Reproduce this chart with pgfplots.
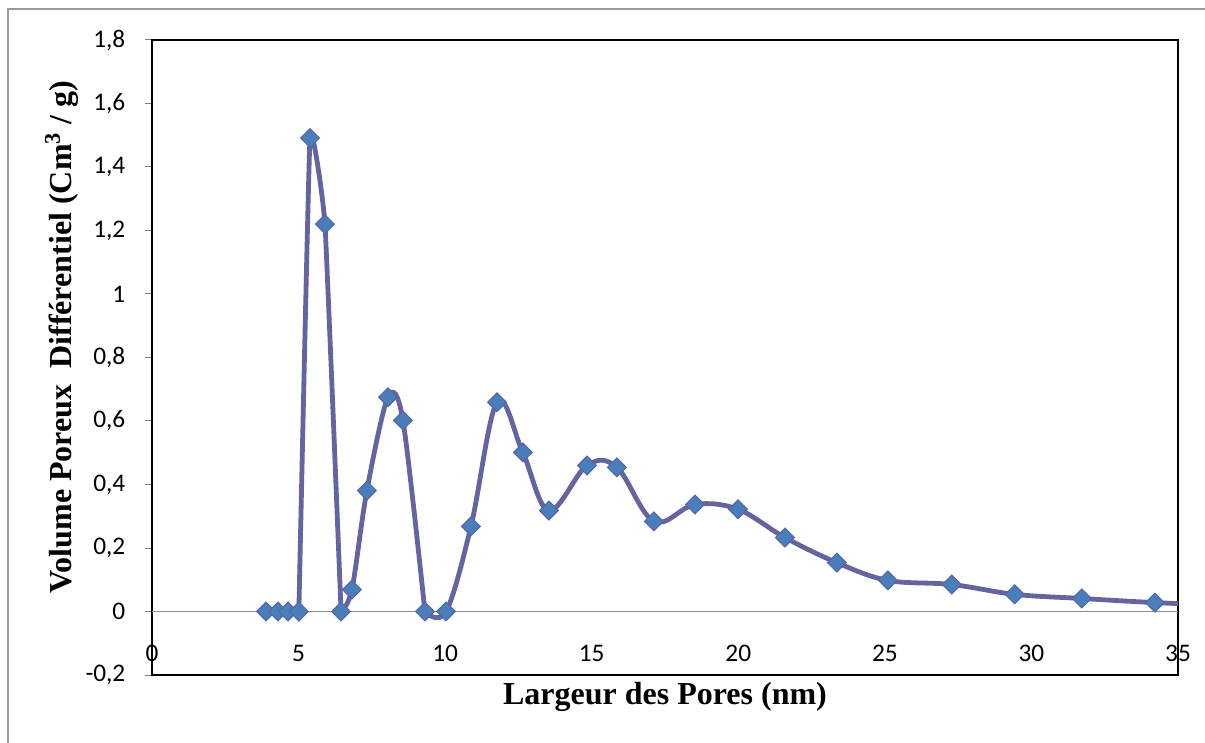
\documentclass[border=0pt]{standalone}
\usepackage{fontspec}
\setmainfont{Liberation Serif}
\newfontfamily\carlito{Carlito}
\usepackage{pgfplots}
\pgfplotsset{compat=1.18}
\definecolor{linec}{RGB}{100,100,160}
\definecolor{markf}{RGB}{74,126,187}
\definecolor{markd}{RGB}{85,100,165}
\begin{document}
\begin{tikzpicture}
\useasboundingbox (-114pt,-50.25pt) rectangle (789.75pt,506.25pt);
\draw[black!40, line width=1pt] (-108pt,-60pt) -- (-108pt,499.5pt) -- (800pt,499.5pt);
\begin{axis}[
  at={(0,0)}, anchor=south west,
  scale only axis, width=769.5pt, height=476.25pt,
  xmin=0, xmax=35, ymin=-0.2, ymax=1.8,
  xtick={0,5,10,15,20,25,30,35},
  xticklabels={0,5,10,15,20,25,30,35},
  ytick={-0.2,0,0.2,0.4,0.6,0.8,1,1.2,1.4,1.6,1.8},
  yticklabels={{-0,2},{0},{0,2},{0,4},{0,6},{0,8},{1},{1,2},{1,4},{1,6},{1,8}},
  axis line style={black, line width=2pt},
  ytick pos=left, tick align=outside, major tick length=5.5pt,
  ytick style={black!50, line width=0.75pt},
  xtick style={draw=none},
  tick label style={font=\carlito\fontsize{19}{22}\selectfont},
  xticklabel style={anchor=center, yshift=21.75pt},
  yticklabel style={xshift=-11pt},
  xlabel={Largeur des Pores (nm)},
  ylabel={Volume Poreux\ \ Différentiel (Cm\textsuperscript{3} / g)},
  label style={font=\bfseries\fontsize{24}{28}\selectfont},
  xlabel style={at={(axis description cs:0.5,-0.034)}, anchor=center},
  ylabel style={at={(axis description cs:-0.0877,0.532)}, anchor=center},
  clip marker paths=true,
]
\addplot[black!45, line width=1.1pt, forget plot] coordinates {(0,0) (35,0)};
% line pieces (same data, smoothed piecewise)
\addplot[linec, line width=3.6pt, line cap=round] coordinates {
  (3.89,0) (4.30,0) (4.64,0) (5.01,0)};
\addplot[linec, line width=3.6pt, smooth, tension=0.2, line cap=round] coordinates {
  (5.01,0) (5.39,1.491) (5.90,1.220) (6.45,0)};
\addplot[linec, line width=3.6pt, smooth, tension=0.5, line cap=round] coordinates {
  (6.45,0) (6.82,0.069) (7.33,0.381) (8.05,0.675) (8.56,0.602) (9.31,0)};
\addplot[linec, line width=3.6pt, smooth, tension=0.6, line cap=round] coordinates {
  (9.31,0) (10.03,0) (10.88,0.268) (11.77,0.659) (12.65,0.501)
  (13.54,0.318) (14.84,0.460) (15.86,0.454) (17.12,0.284)
  (18.52,0.337) (19.99,0.322) (21.59,0.233) (23.36,0.154)
  (25.10,0.098) (27.28,0.085) (29.43,0.054) (31.72,0.041)
  (34.21,0.028) (37.0,0.018)};
% markers
\addplot[only marks, mark=square*, mark size=5pt,
  mark options={rotate=45, fill=markf, draw=markd, line width=0.75pt}]
  coordinates {
  (3.89,0) (4.30,0) (4.64,0) (5.01,0) (5.39,1.491) (5.90,1.220)
  (6.45,0) (6.82,0.069) (7.33,0.381) (8.05,0.675) (8.56,0.602)
  (9.31,0) (10.03,0) (10.88,0.268) (11.77,0.659) (12.65,0.501)
  (13.54,0.318) (14.84,0.460) (15.86,0.454) (17.12,0.284)
  (18.52,0.337) (19.99,0.322) (21.59,0.233) (23.36,0.154)
  (25.10,0.098) (27.28,0.085) (29.43,0.054) (31.72,0.041)
  (34.21,0.028)
  };
\end{axis}
\end{tikzpicture}
\end{document}
